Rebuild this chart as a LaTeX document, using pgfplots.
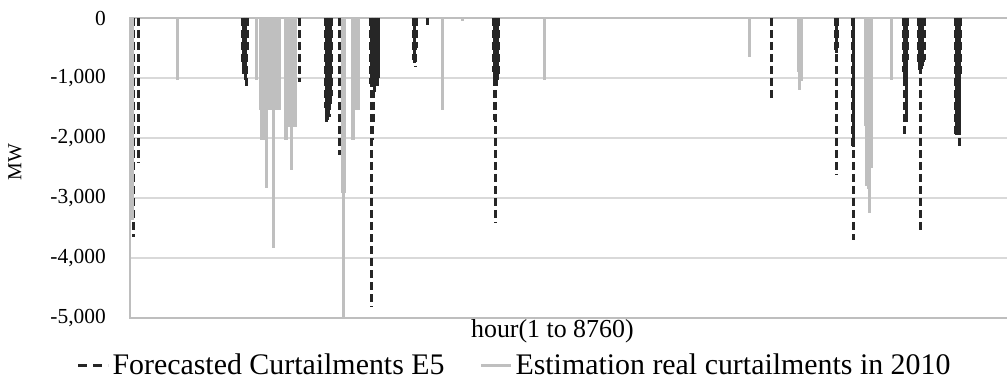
\documentclass[border=0pt]{standalone}
\usepackage{pgfplots}
\pgfplotsset{compat=1.18}
\usepackage{fontspec}
\setmainfont{Liberation Serif}
\definecolor{curtgray}{RGB}{191,191,191}
\definecolor{curtblack}{RGB}{38,38,38}
\definecolor{gridgray}{RGB}{217,217,217}
\definecolor{framegray}{RGB}{190,190,190}
\begin{document}
\begin{tikzpicture}
\useasboundingbox (-130bp,-64bp) rectangle (877bp,318bp);
\begin{axis}[
  at={(0,0)}, anchor=south west,
  scale only axis, width=880bp, height=300bp,
  xmin=0, xmax=8760, ymin=-5000, ymax=0,
  xtick=\empty,
  ytick={-5000,-4000,-3000,-2000,-1000,0},
  yticklabels={{-5,000},{-4,000},{-3,000},{-2,000},{-1,000},0},
  yticklabel style={font=\fontsize{21.5}{21.5}\selectfont, anchor=east, inner sep=0pt, xshift=-24bp},
  major tick length=0pt,
  ymajorgrids, grid style={draw=gridgray, line width=1.5bp},
  axis line style={draw=framegray, line width=2bp},
  xlabel={hour(1 to 8760)},
  xlabel style={font=\fontsize{26}{26}\selectfont, at={(axis description cs:0.48,-0.045)}, anchor=center, inner sep=0pt},
  ylabel={MW},
  ylabel style={font=\fontsize{20}{20}\selectfont, at={(axis description cs:-0.1307,0.52)}, anchor=center, inner sep=0pt},
  legend columns=2,
  legend image code/.code={\draw[#1] (0bp,0bp) -- (30bp,0bp);},
  legend style={draw=none, fill=none, font=\fontsize{30}{30}\selectfont,
    at={(axis description cs:0.4375,-0.157)}, anchor=center,
    nodes={inner sep=3bp},
    /tikz/every even column/.append style={column sep=32bp}},
]
% Forecasted Curtailments E5 (black dashed)
\addplot[forget plot, ycomb, draw=curtblack, line width=3bp, dash pattern=on 8bp off 4bp] coordinates {
(30,-3650) (36,-3300) (80,-2420) (88,-2300)
(1118,-800) (1125,-950) (1135,-700) (1145,-1000) (1155,-1160) (1165,-600)
(1687,-1060)
(1948,-1500) (1958,-1760) (1968,-1700) (1978,-1550) (1988,-1650) (1998,-1400) (2008,-1300)
(2090,-2280)
(2398,-1100) (2406,-4810) (2415,-2030) (2425,-1800) (2435,-1200) (2445,-1150) (2455,-1000) (2465,-1200) (2475,-900)
(2825,-700) (2840,-810) (2852,-500)
(2957,-120)
(3620,-900) (3628,-1700) (3640,-3420) (3650,-1200) (3660,-1000) (3672,-950)
(6381,-1370)
(7025,-590) (7035,-2620) (7046,-500)
(7195,-2150) (7203,-3700)
(7700,-900) (7712,-1950) (7725,-1800) (7738,-700)
(7850,-800) (7860,-870) (7870,-3530) (7882,-850) (7895,-800) (7908,-700)
(8218,-1950) (8228,-1980) (8240,-1900) (8252,-1950) (8262,-2150) (8270,-1000)
};
% same series, neighbouring hours (dash pattern phase shifted where hours overlap)
\addplot[forget plot, ycomb, draw=curtblack, line width=3bp, dash pattern=on 8bp off 4bp, dash phase=6bp] coordinates {
(1130,-900) (1150,-1100)
(1953,-1700) (1973,-1600) (1993,-1500)
(2402,-1150) (2430,-1300) (2450,-1100) (2470,-1000)
(2832,-750)
(3625,-1000) (3655,-1100)
(7030,-580)
(7199,-2150)
(7705,-1000) (7730,-1700)
(7855,-850) (7888,-800)
(8223,-1950) (8246,-1900) (8258,-1950)
};
% Estimation real curtailments in 2010 (gray)
\addplot[forget plot, ycomb, draw=curtgray, line width=3bp] coordinates {
(25,-3370)
(468,-1030)
(1264,-1030)
(1295,-1530) (1305,-2030) (1318,-2030) (1330,-2030) (1354,-2830) (1370,-1530) (1385,-1530) (1400,-1530) (1415,-1530) (1430,-3830) (1445,-1530) (1460,-1530) (1475,-1530) (1490,-1530)
(1548,-2030) (1562,-2030) (1578,-1810) (1595,-1810) (1608,-2530) (1622,-1810) (1637,-1810) (1652,-1810)
(2115,-2920) (2128,-5000) (2140,-2920)
(2215,-2030) (2225,-2030) (2250,-1530) (2270,-1530)
(3106,-1530)
(3305,-50)
(4131,-1030)
(6162,-650)
(6652,-900) (6665,-1200) (6680,-1050)
(7322,-1800) (7335,-2800) (7350,-2850) (7365,-3250) (7378,-2500)
(7576,-1030)
};
\addlegendimage{curtblack, line width=3bp, dash pattern=on 9bp off 6bp}
\addlegendentry{Forecasted Curtailments E5}
\addlegendimage{curtgray, line width=3bp}
\addlegendentry{Estimation real curtailments in 2010}
\end{axis}
\end{tikzpicture}
\end{document}
